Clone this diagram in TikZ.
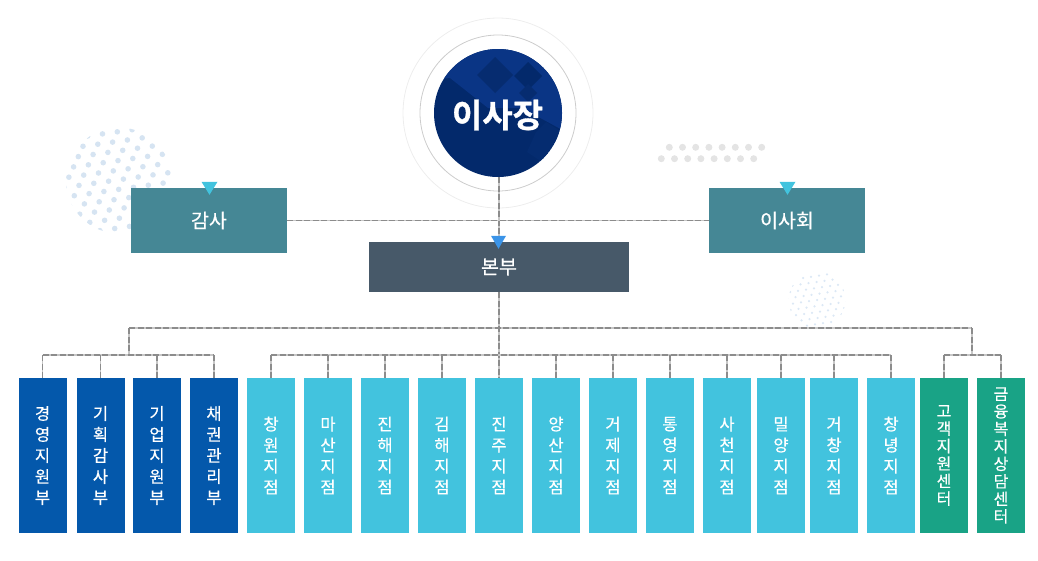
\documentclass[tikz,border=0pt]{standalone}
\usepackage{fontspec}
\setmainfont{Noto Sans CJK KR}
\newfontfamily\labelfont[FakeBold=0.5]{Noto Sans CJK KR}
\newfontfamily\headfont[FakeBold=1.0]{Noto Sans CJK KR Bold}
\definecolor{tealbox}{HTML}{458795}
\definecolor{slatebox}{HTML}{475969}
\definecolor{bluebox}{HTML}{0458AB}
\definecolor{skybox}{HTML}{42C3DE}
\definecolor{greenbox}{HTML}{19A386}
\definecolor{navydark}{HTML}{03296B}
\definecolor{navylight}{HTML}{0A3585}
\definecolor{navymid}{HTML}{052C70}
\definecolor{navydiam}{HTML}{062C70}
\definecolor{dotblue}{HTML}{D6E4F2}
\definecolor{dotfaint}{HTML}{DCE8F5}
\definecolor{dotgray}{HTML}{E4E4E4}
\definecolor{hqmark}{HTML}{3B94E8}
\tikzset{
  x=1pt,y=-1pt,
  conn/.style={draw=black!45,line width=1.3pt,dash pattern=on 6pt off 2.5pt,
    preaction={draw=black!22,solid,line width=1.9pt}},
  unitbox/.style={minimum width=48pt,minimum height=155pt,inner sep=0pt,text=white,align=center,
    font=\labelfont\fontsize{16.5}{21}\selectfont},
  bigbox/.style={inner sep=0pt,text=white,font=\labelfont\fontsize{19.5}{22}\selectfont},
  tightlabel/.style={font=\labelfont\fontsize{16}{17.5}\selectfont}
}
\begin{document}
\begin{tikzpicture}
\useasboundingbox (0,0) rectangle (1038,560);
% decorative dots
\begin{scope}
  \clip (119,180.5) circle[radius=53];
  \foreach \i in {-6,...,10}{\foreach \j in {-5,...,12}{
    \fill[dotblue] ({83+14.8*\i-4.7*\j},{146.3-2.1*\i+10.3*\j}) circle[radius=2.8];}}
\end{scope}
\begin{scope}
  \clip (817,300) circle[radius=28.5];
  \foreach \i in {-6,...,6}{\foreach \j in {-7,...,7}{
    \fill[dotfaint] ({817+8*\i-2.5*\j},{300-1.2*\i+6.4*\j}) circle[radius=1.25];}}
\end{scope}
\foreach \i in {0,...,7}{
  \fill[dotgray] ({669.3+13.2*\i},147.3) circle[radius=3.5];
  \fill[dotgray] ({661.3+13.2*\i},158.7) circle[radius=3.5];}
% rings
\draw[black!7,line width=0.8pt] (498,113) circle[radius=95];
\draw[black!20,line width=0.8pt] (498,113) circle[radius=78];
% nodes
\node[circle,fill=navydark,minimum size=128pt,inner sep=0pt] (chair) at (498,113) {};
\begin{scope}
  \clip (498,113) circle[radius=64];
  \fill[navylight] (430,80) -- (450,78) -- (488,108) -- (522,108) -- (566,132) -- (570,130) -- (570,40) -- (430,40) -- cycle;
  \fill[navymid] (536,132) -- (546,122) -- (562,132) -- (542,162) -- (527,152) -- cycle;
  \fill[navydiam] (495,57) -- (513,75) -- (495,93) -- (477,75) -- cycle;
  \fill[navydark] (528,62) -- (542,76) -- (528,90) -- (514,76) -- cycle;
  \fill[navydiam] (528,84) -- (537,93) -- (528,102) -- (519,93) -- cycle;
\end{scope}
\node[inner sep=0pt,text=white,font=\headfont\fontsize{33}{36}\selectfont] (chairlabel) at (497.5,115) {이사장};
\node[bigbox,fill=tealbox,minimum width=156pt,minimum height=65pt] (audit) at (209,220.5) {감사};
\node[bigbox,fill=tealbox,minimum width=156pt,minimum height=65pt] (board) at (787,220.5) {이사회};
\node[bigbox,fill=slatebox,minimum width=260pt,minimum height=50pt] (hq) at (499,267) {본부};
\foreach \n/\cx/\c/\t in {
  b1/42.5/bluebox/{경\\영\\지\\원\\부},
  b2/100.5/bluebox/{기\\획\\감\\사\\부},
  b3/157/bluebox/{기\\업\\지\\원\\부},
  b4/214/bluebox/{채\\권\\관\\리\\부},
  s1/271/skybox/{창\\원\\지\\점},
  s2/328/skybox/{마\\산\\지\\점},
  s3/385/skybox/{진\\해\\지\\점},
  s4/442/skybox/{김\\해\\지\\점},
  s5/499/skybox/{진\\주\\지\\점},
  s6/556/skybox/{양\\산\\지\\점},
  s7/613/skybox/{거\\제\\지\\점},
  s8/670/skybox/{통\\영\\지\\점},
  s9/727/skybox/{사\\천\\지\\점},
  s10/781/skybox/{밀\\양\\지\\점},
  s11/834/skybox/{거\\창\\지\\점},
  s12/891/skybox/{창\\녕\\지\\점}}{
  \node[unitbox,fill=\c] (\n) at (\cx,455.5) {\t};
}
\node[unitbox,tightlabel,fill=greenbox] (g1) at (944,455.5) {고\\객\\지\\원\\센\\터};
\node[unitbox,tightlabel,fill=greenbox] (g2) at (1001,455.5) {금\\융\\복\\지\\상\\담\\센\\터};
% connector junctions
\coordinate (topleft) at (129,328);
\coordinate (topright) at (972,328);
\coordinate (midleft) at (129,355);
\coordinate (midright) at (972,355);
\coordinate (midcentre) at (499,355);
\draw[conn] (hq.north |- chair.south) -- (hq.north);
\draw[conn] (audit.east) -- (board.west);
\draw[conn] (hq.south) -- (s5.north);
\draw[conn] (topleft) -- (topright);
\draw[conn] (topleft) -- (midleft);
\draw[conn] (topright) -- (midright);
\draw[conn] (b1.north |- midleft) -- (b4.north |- midleft);
\draw[conn] (s1.north |- midcentre) -- (s12.north |- midcentre);
\draw[conn] (g1.north |- midright) -- (g2.north |- midright);
\foreach \n/\lv in {b1/midleft,b2/midleft,b3/midleft,b4/midleft,
  s1/midcentre,s2/midcentre,s3/midcentre,s4/midcentre,s6/midcentre,s7/midcentre,s8/midcentre,s9/midcentre,s10/midcentre,s11/midcentre,s12/midcentre,
  g1/midright,g2/midright}{
  \draw[conn] (\n.north |- \lv) -- (\n.north);
}
% arrow markers
\fill[skybox] ([xshift=-7.5pt,yshift=6pt]audit.north) -- ([xshift=8.5pt,yshift=6pt]audit.north) -- ([xshift=0.5pt,yshift=-7pt]audit.north) -- cycle;
\fill[skybox] ([xshift=-7.5pt,yshift=6pt]board.north) -- ([xshift=8.5pt,yshift=6pt]board.north) -- ([xshift=0.5pt,yshift=-7pt]board.north) -- cycle;
\fill[hqmark] ([xshift=-8pt,yshift=6pt]hq.north) -- ([xshift=7pt,yshift=6pt]hq.north) -- ([xshift=-0.5pt,yshift=-7pt]hq.north) -- cycle;
\end{tikzpicture}
\end{document}
